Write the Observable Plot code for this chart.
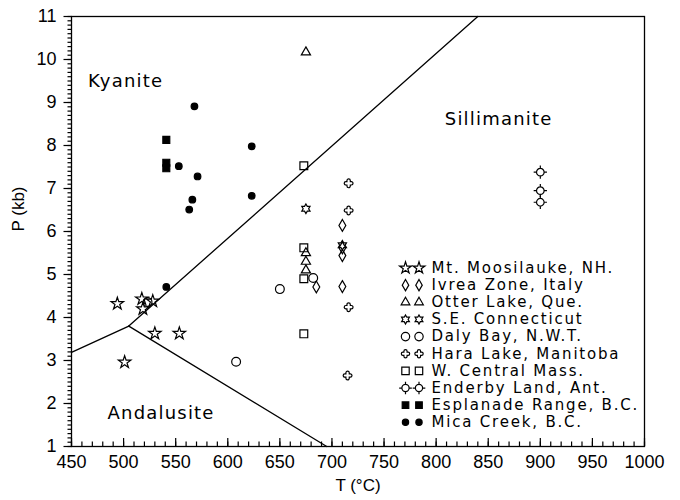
<!DOCTYPE html>
<html><head><meta charset="utf-8">
<script src="https://cdn.jsdelivr.net/npm/d3@7"></script>
<script src="https://cdn.jsdelivr.net/npm/@observablehq/plot@0.6"></script>
<style>
body{margin:0;background:#fff;}
g[aria-description="region-label"] text{letter-spacing:1.2px;}
g[aria-description="legend-label"] text{letter-spacing:1.8px;}
</style></head><body><div id="chart"></div>
<script>
// ---- data ----
const seriesNames = ["Mt. Moosilauke, NH.", "Ivrea Zone, Italy", "Otter Lake, Que.", "S.E. Connecticut", "Daly Bay, N.W.T.", "Hara Lake, Manitoba", "W. Central Mass.", "Enderby Land, Ant.", "Esplanade Range, B.C.", "Mica Creek, B.C."];
const moosilaukeT = [494, 501, 517.5, 518.5, 528, 530, 553.5];
const moosilaukeP = [4.32, 2.96, 4.43, 4.20, 4.38, 3.63, 3.63];
const ivreaT = [685, 710, 710, 710, 710];
const ivreaP = [4.71, 6.14, 5.62, 5.44, 4.72];
const otterT = [675, 675, 675, 675];
const otterP = [10.17, 5.5, 5.3, 5.1];
const connecticutT = [675, 710];
const connecticutP = [6.53, 5.68];
const dalyT = [523, 608, 650, 682];
const dalyP = [4.36, 2.97, 4.66, 4.92];
const haraT = [716, 716, 716, 715];
const haraP = [7.12, 6.49, 4.24, 2.65];
const massT = [673, 673, 673, 673];
const massP = [7.53, 5.62, 4.90, 3.62];
const enderbyT = [900, 900, 900];
const enderbyP = [7.38, 6.95, 6.68];
const esplanadeT = [541, 541, 541];
const esplanadeP = [8.13, 7.60, 7.47];
const micaT = [568, 553, 623, 571, 566, 563, 623, 541];
const micaP = [8.91, 7.52, 7.98, 7.28, 6.74, 6.51, 6.83, 4.71];

const kySillT = [505, 840];
const kySillP = [3.80, 11];
const andKyT = [450, 505];
const andKyP = [3.19, 3.80];
const andSillT = [505, 695];
const andSillP = [3.80, 1];

const regionNames = ["Kyanite", "Sillimanite", "Andalusite"];
const regionT = [502, 860, 536];
const regionP = [9.5, 8.6, 1.78];

const xTitle = "T (°C)";
const yTitle = "P (kb)";
const xMajorTicks = d3.range(450, 1001, 50);
const xMinorTicks = d3.range(450, 1001, 10);
const yMajorTicks = d3.range(1, 12, 1);
const yMinorTicks = d3.range(10, 111, 1).map(v => v / 10);

// ---- custom symbols ----
const hexagram = {draw(ctx, size) {
  const R = Math.sqrt(size / Math.PI) * 1.25, r0 = R / Math.sqrt(3);
  for (let k = 0; k < 12; k++) {
    const a = -Math.PI / 2 + k * Math.PI / 6, rr = k % 2 ? r0 : R;
    const x = rr * Math.cos(a), y = rr * Math.sin(a);
    k ? ctx.lineTo(x, y) : ctx.moveTo(x, y);
  }
  ctx.closePath();
}};
const clover = {draw(ctx, size) {
  const R = Math.sqrt(size / Math.PI), a = R * 0.38;
  ctx.moveTo(-a, -a); ctx.lineTo(-a, -R + a); ctx.arc(0, -R + a, a, Math.PI, 2 * Math.PI);
  ctx.lineTo(a, -a); ctx.lineTo(R - a, -a); ctx.arc(R - a, 0, a, -Math.PI / 2, Math.PI / 2);
  ctx.lineTo(a, a); ctx.lineTo(a, R - a); ctx.arc(0, R - a, a, 0, Math.PI);
  ctx.lineTo(-a, a); ctx.lineTo(-R + a, a); ctx.arc(-R + a, 0, a, Math.PI / 2, 3 * Math.PI / 2);
  ctx.closePath();
}};
const crossCircle = {draw(ctx, size) {
  const r = Math.sqrt(size / Math.PI);
  ctx.moveTo(r, 0); ctx.arc(0, 0, r, 0, 2 * Math.PI); ctx.closePath();
  const t = r * 0.75;
  ctx.moveTo(0, -r); ctx.lineTo(0, -r - t);
  ctx.moveTo(0, r); ctx.lineTo(0, r + t);
  ctx.moveTo(r, 0); ctx.lineTo(r + t, 0);
  ctx.moveTo(-r, 0); ctx.lineTo(-r - t, 0);
}};

const seriesT = [moosilaukeT, ivreaT, otterT, connecticutT, dalyT, haraT, massT, enderbyT, esplanadeT, micaT];
const seriesP = [moosilaukeP, ivreaP, otterP, connecticutP, dalyP, haraP, massP, enderbyP, esplanadeP, micaP];
const styleOf = [
  {symbol: "star", r: 3.9, fill: "none"},
  {symbol: "diamond", r: 3.6, fill: "none"},
  {symbol: "triangle", r: 3.4, fill: "none"},
  {symbol: hexagram, r: 3.8, fill: "none"},
  {symbol: "circle", r: 4.4, fill: "none"},
  {symbol: clover, r: 4.4, fill: "none"},
  {symbol: "square", r: 4.4, fill: "none"},
  {symbol: crossCircle, r: 3.8, fill: "none"},
  {symbol: "square", r: 3.9, fill: "black"},
  {symbol: "circle", r: 3.3, fill: "black"}
];

const pointMarks = seriesNames.map((name, i) => {
  const rows = seriesT[i].map((t, j) => ({T: t, P: seriesP[i][j]}));
  const st = styleOf[i];
  return Plot.dot(rows, {x: "T", y: "P", symbol: st.symbol, r: st.r, fill: st.fill, stroke: "black", strokeWidth: 1.2});
});

const lineOf = (T, P) => T.map((t, j) => ({T: t, P: P[j]}));
const boundaryMarks = [lineOf(kySillT, kySillP), lineOf(andKyT, andKyP), lineOf(andSillT, andSillP)]
  .map(rows => Plot.line(rows, {x: "T", y: "P", stroke: "black", strokeWidth: 1.3}));

const regions = regionNames.map((n, i) => ({name: n, T: regionT[i], P: regionP[i]}));

const W = 680, H = 500, mL = 71, mR = 36, mT = 16, mB = 54;
const plotW = W - mL - mR, plotH = H - mT - mB;

const legendTop = 251.5, legendStep = 17.15;
const legendMarks = seriesNames.flatMap((name, i) => {
  const st = styleOf[i];
  const dy = legendTop + i * legendStep;
  const dotOpts = dx => ({frameAnchor: "top-left", dx, dy, symbol: st.symbol, r: st.r * 0.95, fill: st.fill, stroke: "black", strokeWidth: 1.2});
  return [
    Plot.dot([name], dotOpts(334)),
    Plot.dot([name], dotOpts(347.5)),
    Plot.text([name], {frameAnchor: "top-left", dx: 360, dy, text: d => d, textAnchor: "start", lineAnchor: "middle", fontSize: 15, fontFamily: "DejaVu Sans", ariaDescription: "legend-label"})
  ];
});

// tick marks drawn as short line segments: x ticks point inward (up), y ticks point outward (left)
const xTick = (vals, len) => Plot.tickX(vals, {x: d => d, insetTop: plotH - len, stroke: "black", strokeWidth: 1.2});
const yTick = (vals, len) => Plot.dot(vals, {x: 450, y: d => d, symbol: {draw(ctx) { ctx.moveTo(0, 0); ctx.lineTo(-len, 0); }}, stroke: "black", strokeWidth: 1.2});

const chart = Plot.plot({
  width: W,
  height: H,
  marginLeft: mL,
  marginRight: mR,
  marginTop: mT,
  marginBottom: mB,
  style: {fontFamily: "Liberation Sans, Arial, sans-serif", fontSize: "18px", color: "black", background: "white"},
  x: {domain: [450, 1000]},
  y: {domain: [1, 11]},
  marks: [
    ...boundaryMarks,
    Plot.frame({stroke: "black", strokeWidth: 1.3}),
    xTick(xMinorTicks, 4.5),
    xTick(xMajorTicks, 8),
    yTick(yMinorTicks, 4),
    yTick(yMajorTicks, 8),
    Plot.axisX({ticks: xMajorTicks, tickSize: 0, tickPadding: 9, tickFormat: d => String(d), label: null}),
    Plot.axisY({ticks: yMajorTicks, tickSize: 0, tickPadding: 15, tickFormat: d => String(d), label: null}),
    Plot.text([xTitle], {frameAnchor: "bottom", dy: 39, text: d => d, fontSize: 17, lineAnchor: "middle"}),
    Plot.text([yTitle], {frameAnchor: "left", dx: -53, text: d => d, fontSize: 17, rotate: -90, lineAnchor: "middle"}),
    ...pointMarks,
    Plot.text(regions, {x: "T", y: "P", text: "name", fontSize: 18, fontFamily: "DejaVu Sans", ariaDescription: "region-label"}),
    ...legendMarks
  ]
});
document.getElementById("chart").appendChild(chart);
</script></body></html>
